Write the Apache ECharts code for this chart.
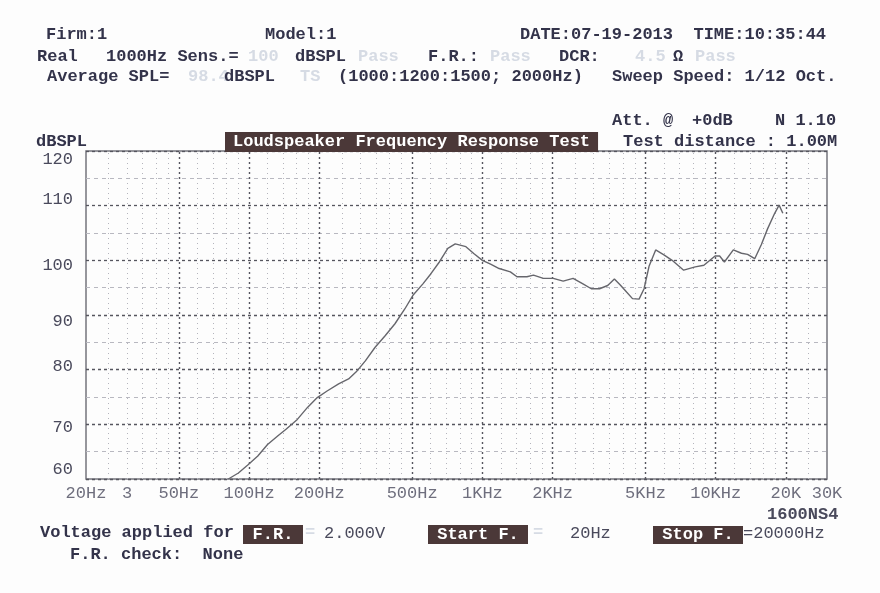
<!DOCTYPE html>
<html><head><meta charset="utf-8">
<script src="https://cdn.jsdelivr.net/npm/echarts@6/dist/echarts.min.js"></script>
<style>html,body{margin:0;padding:0;background:#fdfdfd}#c{width:880px;height:593px}</style>
</head><body><div id="c"></div>
<script>
// ---- data ----
const freqHz = [81.5,90,99,109,120,133,144,161,178,196,216,242,267,288,315,347,383,422,465,504,556,603,654,711,765,850,921,1000,1084,1180,1318,1407,1552,1656,1825,2013,2220,2448,2698,2930,3178,3445,3680,3900,4150,4400,4695,4932,5180,5530,6000,6506,7290,8170,8900,9940,10400,10900,11900,12900,13700,14700,15700,16700,17900,18700,19400];
const splDb = [60.0,61.1,62.6,64.2,66.3,67.9,69.1,70.9,73.1,74.9,76.1,77.4,78.3,79.6,81.6,84.1,86.2,88.4,91.1,93.6,95.7,97.6,99.7,102.2,103.0,102.5,101.2,100.0,99.3,98.5,97.9,97.0,97.0,97.3,96.7,96.7,96.2,96.7,95.7,94.8,94.8,95.4,96.6,95.5,94.2,93.0,92.9,94.8,98.9,101.9,101.0,100.0,98.2,98.8,99.1,100.8,100.8,99.7,101.9,101.3,101.1,100.3,102.9,105.8,108.6,110.1,108.6];
const xTickFreqs = [20,30,50,100,200,500,1000,2000,5000,10000,20000,30000];
const xTickLabels = ['20Hz','3','50Hz','100Hz','200Hz','500Hz','1KHz','2KHz','5KHz','10KHz','20K','30K'];
const xMajorGrid = [50,100,200,500,1000,2000,5000,10000,20000];
const xMinorGrid = [25,30,35,40,45,60,70,80,90,120,140,160,180,250,300,350,400,450,600,700,800,900,1200,1400,1600,1800,2500,3000,3500,4000,4500,6000,7000,8000,9000,12000,14000,16000,18000,25000];
const yMin = 60, yMax = 120, yStep = 10;

// ---- styles ----
const FONT = 'Liberation Mono';
const INK = '#33334a';
const INK2 = '#4a4a5c';
const FAINT = '#d6dbe4';
const BOX = '#4b3838';
// printed y-label vertical offsets (px) relative to their grid lines, as seen on the scan
const yLabelShift = { 120: 8, 110: -6, 100: 5, 90: 6, 80: -3, 70: 3, 60: -10 };

function T(x, y, text, color, weight) {
  return {
    type: 'text', x: x, y: y, silent: true,
    style: { text: text, fill: color || INK, font: (weight || 'bold') + ' 17px "' + FONT + '"', textVerticalAlign: 'middle' }
  };
}
function boxed(x, y, w, h, text) {
  return [
    { type: 'rect', silent: true, shape: { x: x, y: y, width: w, height: h }, style: { fill: BOX } },
    { type: 'text', silent: true, x: x + w / 2, y: y + h / 2,
      style: { text: text, fill: '#ffffff', font: 'bold 17px "' + FONT + '"', textAlign: 'center', textVerticalAlign: 'middle' } }
  ];
}

const graphics = [
  T(46, 35, 'Firm:1'), T(265, 35, 'Model:1'), T(520, 35, 'DATE:07-19-2013  TIME:10:35:44'),
  T(37, 57, 'Real'), T(106, 57, '1000Hz Sens.='), T(248, 57, '100', FAINT), T(295, 57, 'dBSPL'),
  T(358, 57, 'Pass', FAINT), T(428, 57, 'F.R.:'), T(490, 57, 'Pass', FAINT), T(559, 57, 'DCR:'),
  T(635, 57, '4.5', FAINT), T(673, 57, 'Ω'), T(695, 57, 'Pass', FAINT),
  T(47, 77, 'Average SPL='), T(188, 77, '98.4', FAINT), T(224, 77, 'dBSPL'), T(300, 77, 'TS', FAINT),
  T(338, 77, '(1000:1200:1500; 2000Hz)'), T(612, 77, 'Sweep Speed: 1/12 Oct.'),
  T(612, 121, 'Att. @'), T(692, 121, '+0dB'), T(775, 121, 'N 1.10'),
  T(36, 142, 'dBSPL'), T(623, 142, 'Test distance : 1.00M'),
  T(767, 515, '1600NS4', INK2),
  T(40, 533, 'Voltage applied for'),
  T(305, 533, '=', FAINT), T(324, 533, '2.000V', INK2, 'normal'),
  T(533, 533, '=', FAINT), T(570, 533, '20Hz', INK2, 'normal'),
  T(743, 533, '=20000Hz', INK2, 'normal'),
  T(70, 555, 'F.R. check:  None')
].concat(boxed(243, 525, 60, 19, 'F.R.'))
 .concat(boxed(428, 525, 100, 19, 'Start F.'))
 .concat(boxed(653, 526, 90, 18, 'Stop F.'));

const gridLines = xMajorGrid.map(f => ({ xAxis: f, lineStyle: { color: '#55555e', width: 1.4, type: [2, 3] } }))
  .concat(xMinorGrid.map(f => ({ xAxis: f, lineStyle: { color: '#b4b4bc', width: 1, type: [1, 4] } })));

const rich = {};
Object.keys(yLabelShift).forEach(k => {
  const d = yLabelShift[k];
  rich['v' + k] = { color: INK2, fontFamily: FONT, fontSize: 17, padding: [d > 0 ? 2 * d : 0, 0, d < 0 ? -2 * d : 0, 0] };
});

const chart = echarts.init(document.getElementById('c'), null, { renderer: 'canvas' });
chart.setOption({
  backgroundColor: '#fdfdfd',
  animation: false,
  title: {
    text: 'Loudspeaker Frequency Response Test',
    left: 225, top: 132, padding: [1, 8, 1, 8],
    backgroundColor: BOX,
    textStyle: { color: '#ffffff', fontFamily: FONT, fontWeight: 'bold', fontSize: 17, lineHeight: 18 }
  },
  grid: { left: 86, right: 53, top: 151, bottom: 114, show: true, borderColor: '#74747c', borderWidth: 1.5, backgroundColor: 'transparent' },
  xAxis: {
    type: 'log', logBase: 10, min: 20, max: 30000,
    axisLine: { show: false }, axisTick: { show: false }, axisLabel: { show: false }, splitLine: { show: false }
  },
  yAxis: {
    type: 'value', min: yMin, max: yMax, interval: yStep,
    axisLine: { show: false }, axisTick: { show: false },
    axisLabel: { margin: 13, formatter: v => '{v' + v + '|' + v + '}', rich: rich },
    splitLine: { lineStyle: { color: '#55555e', width: 1.3, type: [3, 3] } },
    minorTick: { show: false, splitNumber: 2 },
    minorSplitLine: { show: true, lineStyle: { color: '#b8b8c0', width: 1, type: [4, 4] } }
  },
  graphic: graphics,
  series: [
    {
      type: 'line', name: 'grid', data: [[20, yMin]], symbol: 'none', silent: true, z: 1,
      lineStyle: { opacity: 0 },
      markLine: { silent: true, symbol: ['none', 'none'], label: { show: false }, data: gridLines, animation: false }
    },
    {
      type: 'scatter', name: 'ticks', silent: true, symbolSize: 0, z: 3,
      data: xTickFreqs.map((f, i) => ({ value: [f, yMin], label: { formatter: xTickLabels[i] } })),
      label: { show: true, position: 'bottom', distance: 6, color: INK2, fontFamily: FONT, fontSize: 17 }
    },
    {
      type: 'line', name: 'SPL', z: 5, symbol: 'none', silent: true,
      data: freqHz.map((f, i) => [f, splDb[i]]),
      lineStyle: { color: '#66666c', width: 1.4 }
    }
  ]
});
</script></body></html>
